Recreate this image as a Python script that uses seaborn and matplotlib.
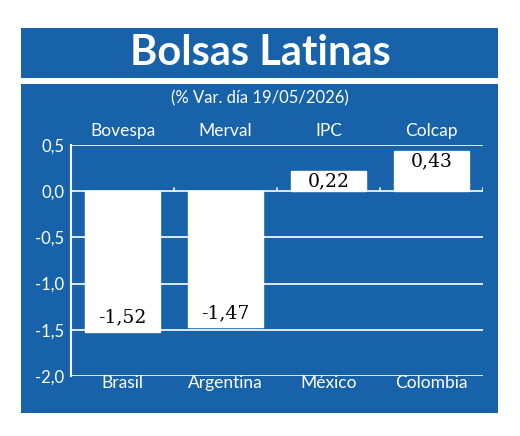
import numpy as np
import pandas as pd
import matplotlib.pyplot as plt
import seaborn as sns
from matplotlib.patches import Rectangle

indices = ["Bovespa", "Merval", "IPC", "Colcap"]
countries = ["Brasil", "Argentina", "México", "Colombia"]
values = [-1.52, -1.47, 0.22, 0.43]
yticks = [0.5, 0.0, -0.5, -1.0, -1.5, -2.0]

BLUE = "#1862aa"
sns.set_theme(style="white")
plt.rcParams['font.family'] = ['Lato', 'DejaVu Sans']

fig = plt.figure(figsize=(5.2, 4.36), dpi=100)
fig.patch.set_facecolor("white")
# blue frame: title band and panel
fig.add_artist(Rectangle((21/520, 1-78/436), 477/520, 50/436, transform=fig.transFigure,
                         facecolor=BLUE, edgecolor="none", zorder=0))
fig.add_artist(Rectangle((21/520, 1-413/436), 477/520, 329/436, transform=fig.transFigure,
                         facecolor=BLUE, edgecolor="none", zorder=0))
fig.text(0.5, 1-53/436, "Bolsas Latinas", color="white", fontsize=30, fontweight="bold",
         ha="center", va="center")
fig.text(0.5, 1-98/436, "(% Var. día 19/05/2026)", color="white", fontsize=12,
         ha="center", va="center")

ax = fig.add_axes([71/520, 1-376/436, 412/520, 231/436])
ax.set_facecolor(BLUE)
df = pd.DataFrame({"idx": indices, "val": values})
sns.barplot(data=df, x="idx", y="val", color="white", saturation=1, width=0.73, ax=ax, zorder=3)
ax.set_ylim(-2.0, 0.5)
ax.set_xlim(-0.5, 3.5)
ax.set_yticks(yticks)
ax.set_yticklabels([f"{t:.1f}".replace(".", ",") for t in yticks], color="white", fontsize=12)
ax.yaxis.grid(True, color="white", linewidth=1.2, zorder=0)
ax.set_axisbelow(True)
ax.tick_params(axis="y", length=0, pad=5)
ax.set_xticks([])
ax.set_xlabel("")
ax.set_ylabel("")
for s in ["top", "right", "bottom"]:
    ax.spines[s].set_visible(False)
ax.spines["left"].set_color("white")
ax.spines["left"].set_linewidth(1.5)
for b in [0.5, 1.5, 2.5, 3.5]:
    ax.plot([b, b], [0, 0.03], color="white", lw=1.2, zorder=2)

for i, (name, ctry, v) in enumerate(zip(indices, countries, values)):
    ax.text(i, 0.57, name, color="white", fontsize=12.5, ha="center", va="bottom")
    ax.text(i, -2.08, ctry, color="white", fontsize=12.5, ha="center", va="center", zorder=5)
    ytxt = v + 0.15 if v < 0 else v - 0.11
    ax.text(i, ytxt, f"{v:.2f}".replace(".", ","), color="black", fontsize=13.5,
            family="DejaVu Serif", ha="center", va="center", zorder=5)

fig.savefig("out.png", dpi=100)
